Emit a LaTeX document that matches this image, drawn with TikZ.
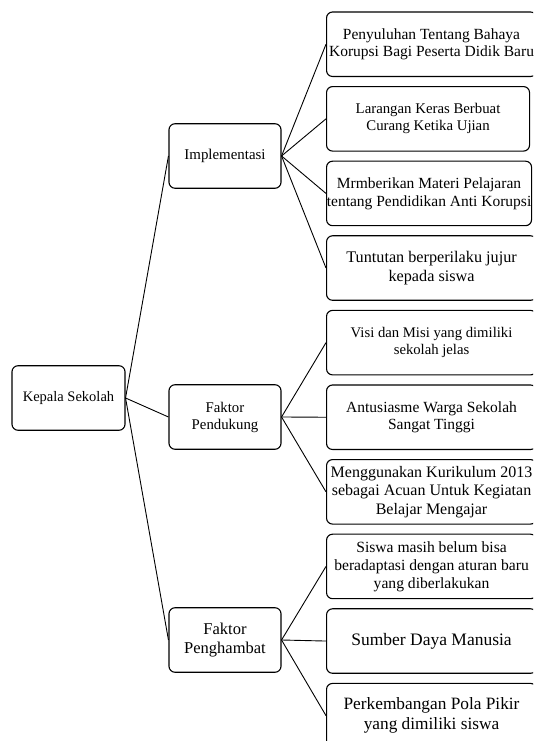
\documentclass[tikz,border=0pt]{standalone}
\usepackage{fontspec}
\setmainfont{Liberation Serif}
\newcommand{\fz}[1]{\fontsize{#1}{\fpeval{1.15*#1}}\selectfont}
\tikzset{
  box/.style={draw=black, line width=1.1pt, rounded corners=6pt, fill=white,
    align=center, inner sep=0pt, minimum height=64.5pt},
  rbox/.style={box, anchor=west},
  conn/.style={draw=black, line width=0.9pt},
}
\begin{document}
\begin{tikzpicture}[x=1pt,y=1pt]
\useasboundingbox (0,0) rectangle (533,741);
\fill[white] (0,0) rectangle (533,741);
\clip (0,0) rectangle (533,741);
% root and middle
\node[box, minimum width=113pt, font=\fz{14.5}] (root) at (68.5,343) {Kepala Sekolah};
\node[box, minimum width=112pt, font=\fz{14.9}] (imp) at (225,585) {Implementasi};
\node[box, minimum width=112pt, font=\fz{14.8}] (pend) at (225,324) {Faktor\\Pendukung};
\node[box, minimum width=112pt, font=\fz{16.5}] (peng) at (225,101) {Faktor\\Penghambat};
% right boxes
\node[rbox, minimum width=210pt, font=\fz{15.5}] (b1) at (326,696.75) {Penyuluhan Tentang Bahaya\\Korupsi Bagi Peserta Didik Baru};
\node[rbox, minimum width=203pt, font=\fz{14.8}] (b2) at (326,622.15) {Larangan Keras Berbuat\\Curang Ketika Ujian};
\node[rbox, minimum width=205pt, font=\fz{15.5}] (b3) at (326,547.55) {Mrmberikan Materi Pelajaran\\tentang Pendidikan Anti Korupsi};
\node[rbox, minimum width=210pt, font=\fz{16.2}] (b4) at (326,472.95) {Tuntutan berperilaku jujur\\kepada siswa};
\node[rbox, minimum width=210pt, font=\fz{14.7}] (b5) at (326,398.35) {Visi dan Misi yang dimiliki\\sekolah jelas};
\node[rbox, minimum width=210pt, font=\fz{15.5}] (b6) at (326,323.75) {Antusiasme Warga Sekolah\\Sangat Tinggi};
\node[rbox, minimum width=210pt, font=\fz{16.0}] (b7) at (326,249.15) {Menggunakan Kurikulum 2013\\sebagai Acuan Untuk Kegiatan\\Belajar Mengajar};
\node[rbox, minimum width=210pt, font=\fz{15.6}] (b8) at (326,174.55) {Siswa masih belum bisa\\beradaptasi dengan aturan baru\\yang diberlakukan};
\node[rbox, minimum width=210pt, font=\fz{17.5}] (b9) at (326,99.95) {Sumber Daya Manusia};
\node[rbox, minimum width=210pt, font=\fz{17.3}] (b10) at (326,25.35) {Perkembangan Pola Pikir\\yang dimiliki siswa};
% connectors
\foreach \m in {imp,pend,peng} \draw[conn] (root.east) -- (\m.west);
\foreach \b in {b1,b2,b3,b4} \draw[conn] (imp.east) -- (\b.west);
\foreach \b in {b5,b6,b7} \draw[conn] (pend.east) -- (\b.west);
\foreach \b in {b8,b9,b10} \draw[conn] (peng.east) -- (\b.west);
\end{tikzpicture}
\end{document}
